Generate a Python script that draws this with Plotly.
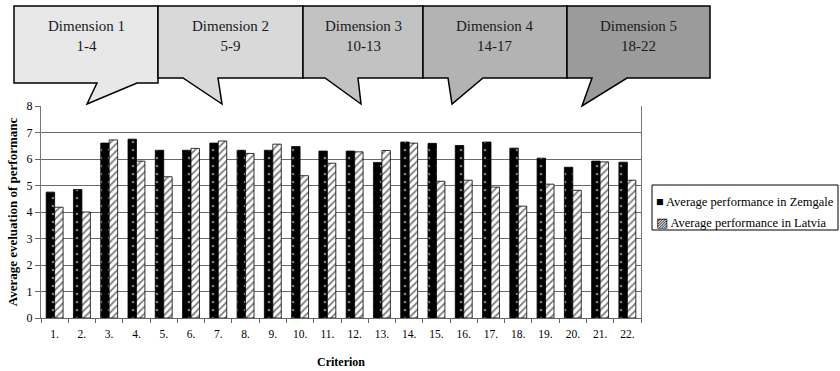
import plotly.graph_objects as go

# Criteria on the x axis and the two average scores per criterion
criteria = ["1.", "2.", "3.", "4.", "5.", "6.", "7.", "8.", "9.", "10.", "11.",
            "12.", "13.", "14.", "15.", "16.", "17.", "18.", "19.", "20.", "21.", "22."]
zemgale = [4.75, 4.85, 6.60, 6.75, 6.33, 6.33, 6.60, 6.33, 6.33, 6.47, 6.30,
           6.30, 5.87, 6.64, 6.59, 6.51, 6.64, 6.41, 6.03, 5.69, 5.92, 5.88]
latvia = [4.18, 4.00, 6.72, 5.92, 5.33, 6.40, 6.68, 6.21, 6.56, 5.37, 5.84,
          6.27, 6.32, 6.60, 5.16, 5.20, 4.94, 4.22, 5.05, 4.82, 5.89, 5.20]
series_names = ["Average performance in Zemgale", "Average performance in Latvia"]

# Dimension groupings shown in the callouts
dimension_names = ["Dimension 1", "Dimension 2", "Dimension 3", "Dimension 4", "Dimension 5"]
dimension_ranges = ["1-4", "5-9", "10-13", "14-17", "18-22"]

W, H = 840, 371
L, R, T, B = 41, 199, 106, 53
PW, PH = W - L - R, H - T - B
FONT = "Liberation Serif, Times New Roman, serif"


def px(x):
    return (x - L) / PW


def py(y):
    return (H - B - y) / PH


fig = go.Figure()
fig.add_trace(go.Bar(
    x=criteria, y=zemgale, name=series_names[0], showlegend=False,
    marker=dict(color="black", line=dict(color="black", width=0.8),
                pattern=dict(shape=".", bgcolor="black", fgcolor="white",
                             size=8, solidity=0.08)),
))
fig.add_trace(go.Bar(
    x=criteria, y=latvia, name=series_names[1], showlegend=False,
    marker=dict(color="white", line=dict(color="black", width=0.8),
                pattern=dict(shape="/", bgcolor="white", fgcolor="black",
                             size=5, solidity=0.35)),
))

# Callout boxes: (left, right, bottom, tail base left, tail base right, tip x, tip y, fill)
callouts = [
    (14, 158, 83, 97, 137, 87, 104, "#e8e8e8"),
    (158, 303, 78, 183, 218, 222, 104, "#d9d9d9"),
    (303, 423, 78, 325, 358, 361, 104, "#c2c2c2"),
    (423, 567, 78, 448, 483, 452, 104, "#b3b3b3"),
    (567, 710, 78, 592, 627, 582, 106, "#9b9b9b"),
]
top = 6
shapes = []
annotations = []
for i, (x0, x1, yb, bl, br, tx, ty, fill) in enumerate(callouts):
    pts = [(x0, top), (x1, top), (x1, yb), (br, yb), (tx, ty), (bl, yb), (x0, yb)]
    path = "M " + " L ".join(f"{px(a):.5f},{py(b):.5f}" for a, b in pts) + " Z"
    shapes.append(dict(type="path", path=path, xref="paper", yref="paper",
                       fillcolor=fill, line=dict(color="black", width=1.5),
                       layer="above"))
    annotations.append(dict(
        x=px((x0 + x1) / 2), y=py(36), xref="paper", yref="paper",
        text=f"{dimension_names[i]}<br>{dimension_ranges[i]}",
        showarrow=False, xanchor="center", yanchor="middle",
        font=dict(family=FONT, size=15, color="#1a1a1a"),
    ))

# Legend frame and entries
shapes.append(dict(type="rect", xref="paper", yref="paper",
                   x0=px(652), x1=px(838), y0=py(230), y1=py(185),
                   line=dict(color="black", width=1), fillcolor="white"))
for name, sym, yy in [(series_names[0], "■", 202), (series_names[1], "▨", 223)]:
    annotations.append(dict(
        x=px(654), y=py(yy), xref="paper", yref="paper",
        text=f"{sym} {name}", showarrow=False, xanchor="left", yanchor="middle",
        font=dict(family=FONT, size=12.5, color="black"),
    ))

fig.update_layout(
    width=W, height=H,
    margin=dict(l=L, r=R, t=T, b=B, autoexpand=False),
    paper_bgcolor="white", plot_bgcolor="white",
    barmode="group", bargap=0.38, bargroupgap=0,
    font=dict(family=FONT, size=11, color="black"),
    shapes=shapes, annotations=annotations,
    showlegend=False,
)
fig.update_xaxes(
    type="category", showgrid=False, tickson="boundaries", automargin=False,
    ticks="outside", ticklen=4, tickcolor="#666666",
    showline=True, linecolor="#666666", linewidth=1,
    tickfont=dict(family=FONT, size=11.5), ticklabelstandoff=5,
    title=dict(text="<b>Criterion</b>", font=dict(family=FONT, size=12), standoff=18),
)
fig.update_yaxes(
    range=[0, 8], dtick=1, showgrid=True, gridcolor="#6a6a6a", gridwidth=1,
    automargin=False,
    ticks="outside", ticklen=5, tickcolor="#666666",
    showline=True, linecolor="#777777", linewidth=1, mirror=True,
    zeroline=False,
    tickfont=dict(family=FONT, size=12),
    title=dict(text="<b>Average eveluation of performanc</b>",
               font=dict(family=FONT, size=13), standoff=6),
)

fig.write_html("out.html")
